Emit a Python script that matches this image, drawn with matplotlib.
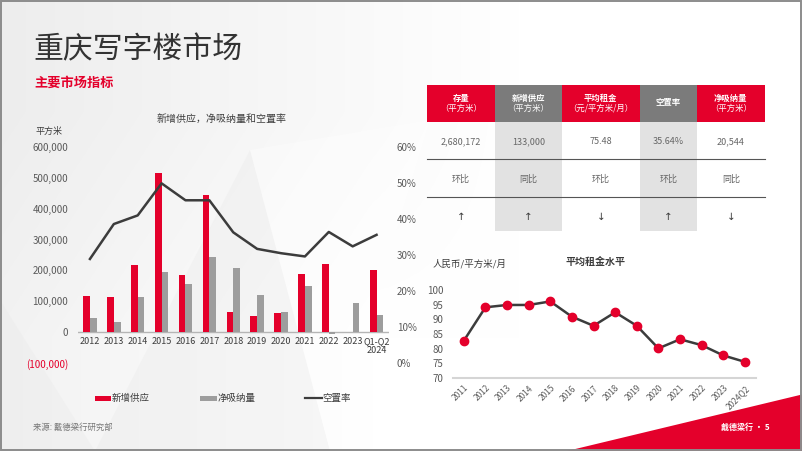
import matplotlib
matplotlib.use('Agg')
import matplotlib.pyplot as plt
from matplotlib.patches import Rectangle, Polygon
import numpy as np

plt.rcParams['font.family'] = ['Noto Sans CJK SC', 'DejaVu Sans']

RED = '#E4002B'
GRAY_BAR = '#9d9d9d'
GRAY_HEAD = '#7b7b7b'
SHADE = '#e2e2e2'
DARK = '#3c3c3c'
TXT = '#5a5a5a'

# ---------------- data ----------------
years = ['2012', '2013', '2014', '2015', '2016', '2017', '2018', '2019',
         '2020', '2021', '2022', '2023', 'Q1-Q2\n2024']
new_supply = [118000, 114000, 216000, 515000, 186000, 446000, 64000, 51000,
              63000, 189000, 220000, 0, 201000]
net_absorption = [47000, 32000, 114000, 195000, 157000, 245000, 207000, 121000,
                  66000, 149000, -7000, 94000, 55000]
vacancy = [28.9, 38.6, 41.0, 49.9, 45.2, 45.2, 36.3, 31.7, 30.5, 29.6, 36.4,
           32.4, 35.6]

rent_years = ['2011', '2012', '2013', '2014', '2015', '2016', '2017', '2018',
              '2019', '2020', '2021', '2022', '2023', '2024Q2']
rent = [82.7, 94.1, 94.9, 94.9, 96.1, 90.9, 87.8, 92.4, 87.8, 80.1, 83.2,
        81.2, 77.7, 75.5]

left_ticks = [-100000, 0, 100000, 200000, 300000, 400000, 500000, 600000]
right_ticks = [0, 10, 20, 30, 40, 50, 60]
rent_ticks = [70, 75, 80, 85, 90, 95, 100]

table_head_main = ['存量', '新增供应', '平均租金', '空置率', '净吸纳量']
table_head_unit = ['（平方米）', '（平方米）', '（元/平方米/月）', '', '（平方米）']
table_values = ['2,680,172', '133,000', '75.48', '35.64%', '20,544']
table_compare = ['环比', '同比', '环比', '环比', '同比']
table_trend = ['↑', '↑', '↓', '↑', '↓']

# ---------------- figure ----------------
fig = plt.figure(figsize=(8.02, 4.51), dpi=100)
bg = fig.add_axes([0, 0, 1, 1], zorder=0)
bg.set_xlim(0, 802)
bg.set_ylim(451, 0)
bg.axis('off')

# soft background gradient (light gray at left fading to white)
grad = np.linspace(0.93, 1.0, 256)[None, :] * np.ones((2, 1))
grad = np.minimum(grad + np.linspace(0, 0.02, 2)[:, None], 1.0)
bg.imshow(np.dstack([grad, grad, grad]), extent=(0, 520, 451, 0),
          aspect='auto', interpolation='bilinear', zorder=0)
bg.add_patch(Rectangle((520, 0), 282, 451, facecolor='white', edgecolor='none',
                       zorder=0))
bg.set_xlim(0, 802)
bg.set_ylim(451, 0)
# faint facets
bg.add_patch(Polygon([(95, 451), (250, 150), (330, 451)], closed=True,
                     facecolor='#e9e9e9', edgecolor='none', alpha=0.35, zorder=1))
bg.add_patch(Polygon([(250, 150), (430, 120), (330, 451)], closed=True,
                     facecolor='#ffffff', edgecolor='none', alpha=0.35, zorder=1))
bg.add_patch(Polygon([(0, 300), (95, 451), (0, 451)], closed=True,
                     facecolor='#e9e9e9', edgecolor='none', alpha=0.35, zorder=1))

# titles
bg.text(33, 50, '重庆写字楼市场', fontsize=21.5, color='#333333',
        ha='left', va='center')
bg.text(34, 83, '主要市场指标', fontsize=9.5, color=RED, fontweight='bold',
        ha='left', va='center')

# left chart labels
bg.text(222, 119, '新增供应，净吸纳量和空置率', fontsize=7.2, color=DARK,
        ha='center', va='center')
bg.text(35, 131, '平方米', fontsize=6.5, color=DARK, ha='left', va='center')

# legend (manual)
bg.add_patch(Rectangle((95, 395.5), 15.5, 5.5, facecolor=RED, edgecolor='none'))
bg.text(112, 398, '新增供应', fontsize=6.8, color=DARK, ha='left', va='center')
bg.add_patch(Rectangle((200, 395.5), 16.5, 5.5, facecolor=GRAY_BAR, edgecolor='none'))
bg.text(217.5, 398, '净吸纳量', fontsize=6.8, color=DARK, ha='left', va='center')
bg.plot([305, 321.5], [398, 398], color=DARK, lw=1.6)
bg.text(322, 398, '空置率', fontsize=6.8, color=DARK, ha='left', va='center')

# table
col_edges = [426.7, 495, 561.7, 640, 696.7, 765]
for i in range(5):
    x0, x1 = col_edges[i], col_edges[i + 1]
    xc = (x0 + x1) / 2
    head_col = RED if i % 2 == 0 else GRAY_HEAD
    bg.add_patch(Rectangle((x0, 85), x1 - x0, 36.7, facecolor=head_col,
                           edgecolor='none', zorder=2))
    if i % 2 == 1:
        bg.add_patch(Rectangle((x0, 121.7), x1 - x0, 109.5, facecolor=SHADE,
                               edgecolor='none', zorder=2))
    if table_head_unit[i]:
        bg.text(xc, 98.3, table_head_main[i], fontsize=6, color='white',
                fontweight='bold', ha='center', va='center', zorder=3)
        bg.text(xc, 108, table_head_unit[i], fontsize=6, color='white',
                ha='center', va='center', zorder=3)
    else:
        bg.text(xc, 103, table_head_main[i], fontsize=6, color='white',
                fontweight='bold', ha='center', va='center', zorder=3)
    bg.text(xc, 141.7, table_values[i], fontsize=6.5, color='#666666',
            ha='center', va='center', zorder=3)
    bg.text(xc, 179, table_compare[i], fontsize=6.5, color='#666666',
            ha='center', va='center', zorder=3)
    bg.text(xc, 216.5, table_trend[i], fontsize=7.5, color=DARK,
            ha='center', va='center', family='DejaVu Sans', zorder=3)
for yl in (159.3, 196.7):
    bg.plot([426.7, 765], [yl, yl], color='#555555', lw=0.8, zorder=3)

# right chart labels
bg.text(433, 264, '人民币/平方米/月', fontsize=6.8, color=DARK,
        ha='left', va='center')
bg.text(596, 262, '平均租金水平', fontsize=7.2, color=DARK, fontweight='bold',
        ha='center', va='center')

# footer
bg.add_patch(Polygon([(567, 451), (802, 394.5), (802, 451)], closed=True,
                     facecolor=RED, edgecolor='none', zorder=2))
bg.text(33, 427, '来源: 戴德梁行研究部', fontsize=6, color='#777777',
        ha='left', va='center')
bg.text(745, 427, '戴德梁行 • 5', fontsize=5.8, color='white',
        fontweight='bold', ha='center', va='center', zorder=3)
bg.add_patch(Rectangle((0.7, 0.7), 800.6, 449.6, facecolor='none',
                       edgecolor='#8c8c8c', lw=1.4, zorder=4))

# ---------------- left chart ----------------
ax = fig.add_axes([78 / 802, 1 - 363 / 451, 310.5 / 802, 216 / 451], zorder=2)
ax.patch.set_alpha(0)
x = np.arange(len(years))
w = 0.28
ax.bar(x - w / 2, new_supply, w, color=RED, zorder=2)
ax.bar(x + w / 2, net_absorption, w, color=GRAY_BAR, zorder=2)
ax.axhline(0, color='#b5b5b5', lw=1, zorder=1)
ax.set_xlim(-0.5, 12.5)
ax.set_ylim(-100000, 600000)
ax.set_yticks(left_ticks)
ax.set_yticklabels(['({:,})'.format(-v) if v < 0 else '{:,}'.format(v)
                    for v in left_ticks])
ax.get_yticklabels()[0].set_color(RED)
for sp in ax.spines.values():
    sp.set_visible(False)
ax.tick_params(axis='y', length=0, pad=7, labelsize=7)
for lab in ax.get_yticklabels()[1:]:
    lab.set_color(TXT)
ax.set_xticks([])
for i, lab in enumerate(years):
    ax.annotate(lab, (i, 0), xytext=(0, -3.5), textcoords='offset points',
                ha='center', va='top', fontsize=6.5, color=DARK,
                linespacing=1.05)

ax2 = ax.twinx()
ax2.patch.set_alpha(0)
ax2.plot(x, vacancy, color=DARK, lw=1.8, zorder=3)
ax2.set_ylim(0, 60)
ax2.set_yticks(right_ticks)
ax2.set_yticklabels(['{}%'.format(v) for v in right_ticks])
for sp in ax2.spines.values():
    sp.set_visible(False)
ax2.tick_params(axis='y', length=0, pad=6, labelsize=7, labelcolor=TXT)

# ---------------- right chart ----------------
ax3 = fig.add_axes([453 / 802, 1 - 378 / 451, 302.7 / 802, 88 / 451], zorder=2)
ax3.patch.set_alpha(0)
xr = np.arange(len(rent_years))
ax3.plot(xr, rent, color=DARK, lw=1.8, marker='o', ms=6, mfc=RED, mec=RED,
         zorder=3, clip_on=False)
ax3.set_xlim(-0.5, 13.5)
ax3.set_ylim(70, 100)
ax3.set_yticks(rent_ticks)
for k, sp in ax3.spines.items():
    sp.set_visible(k == 'bottom')
ax3.spines['bottom'].set_color('#d5d5d5')
ax3.spines['bottom'].set_linewidth(1.5)
ax3.tick_params(axis='both', length=0)
ax3.tick_params(axis='y', pad=7, labelsize=7, labelcolor=TXT)
ax3.set_xticks(xr)
ax3.set_xticklabels(rent_years, rotation=45, ha='right', rotation_mode='anchor',
                    fontsize=6, color=TXT)
ax3.tick_params(axis='x', pad=4)

fig.savefig('out.png', dpi=100)
